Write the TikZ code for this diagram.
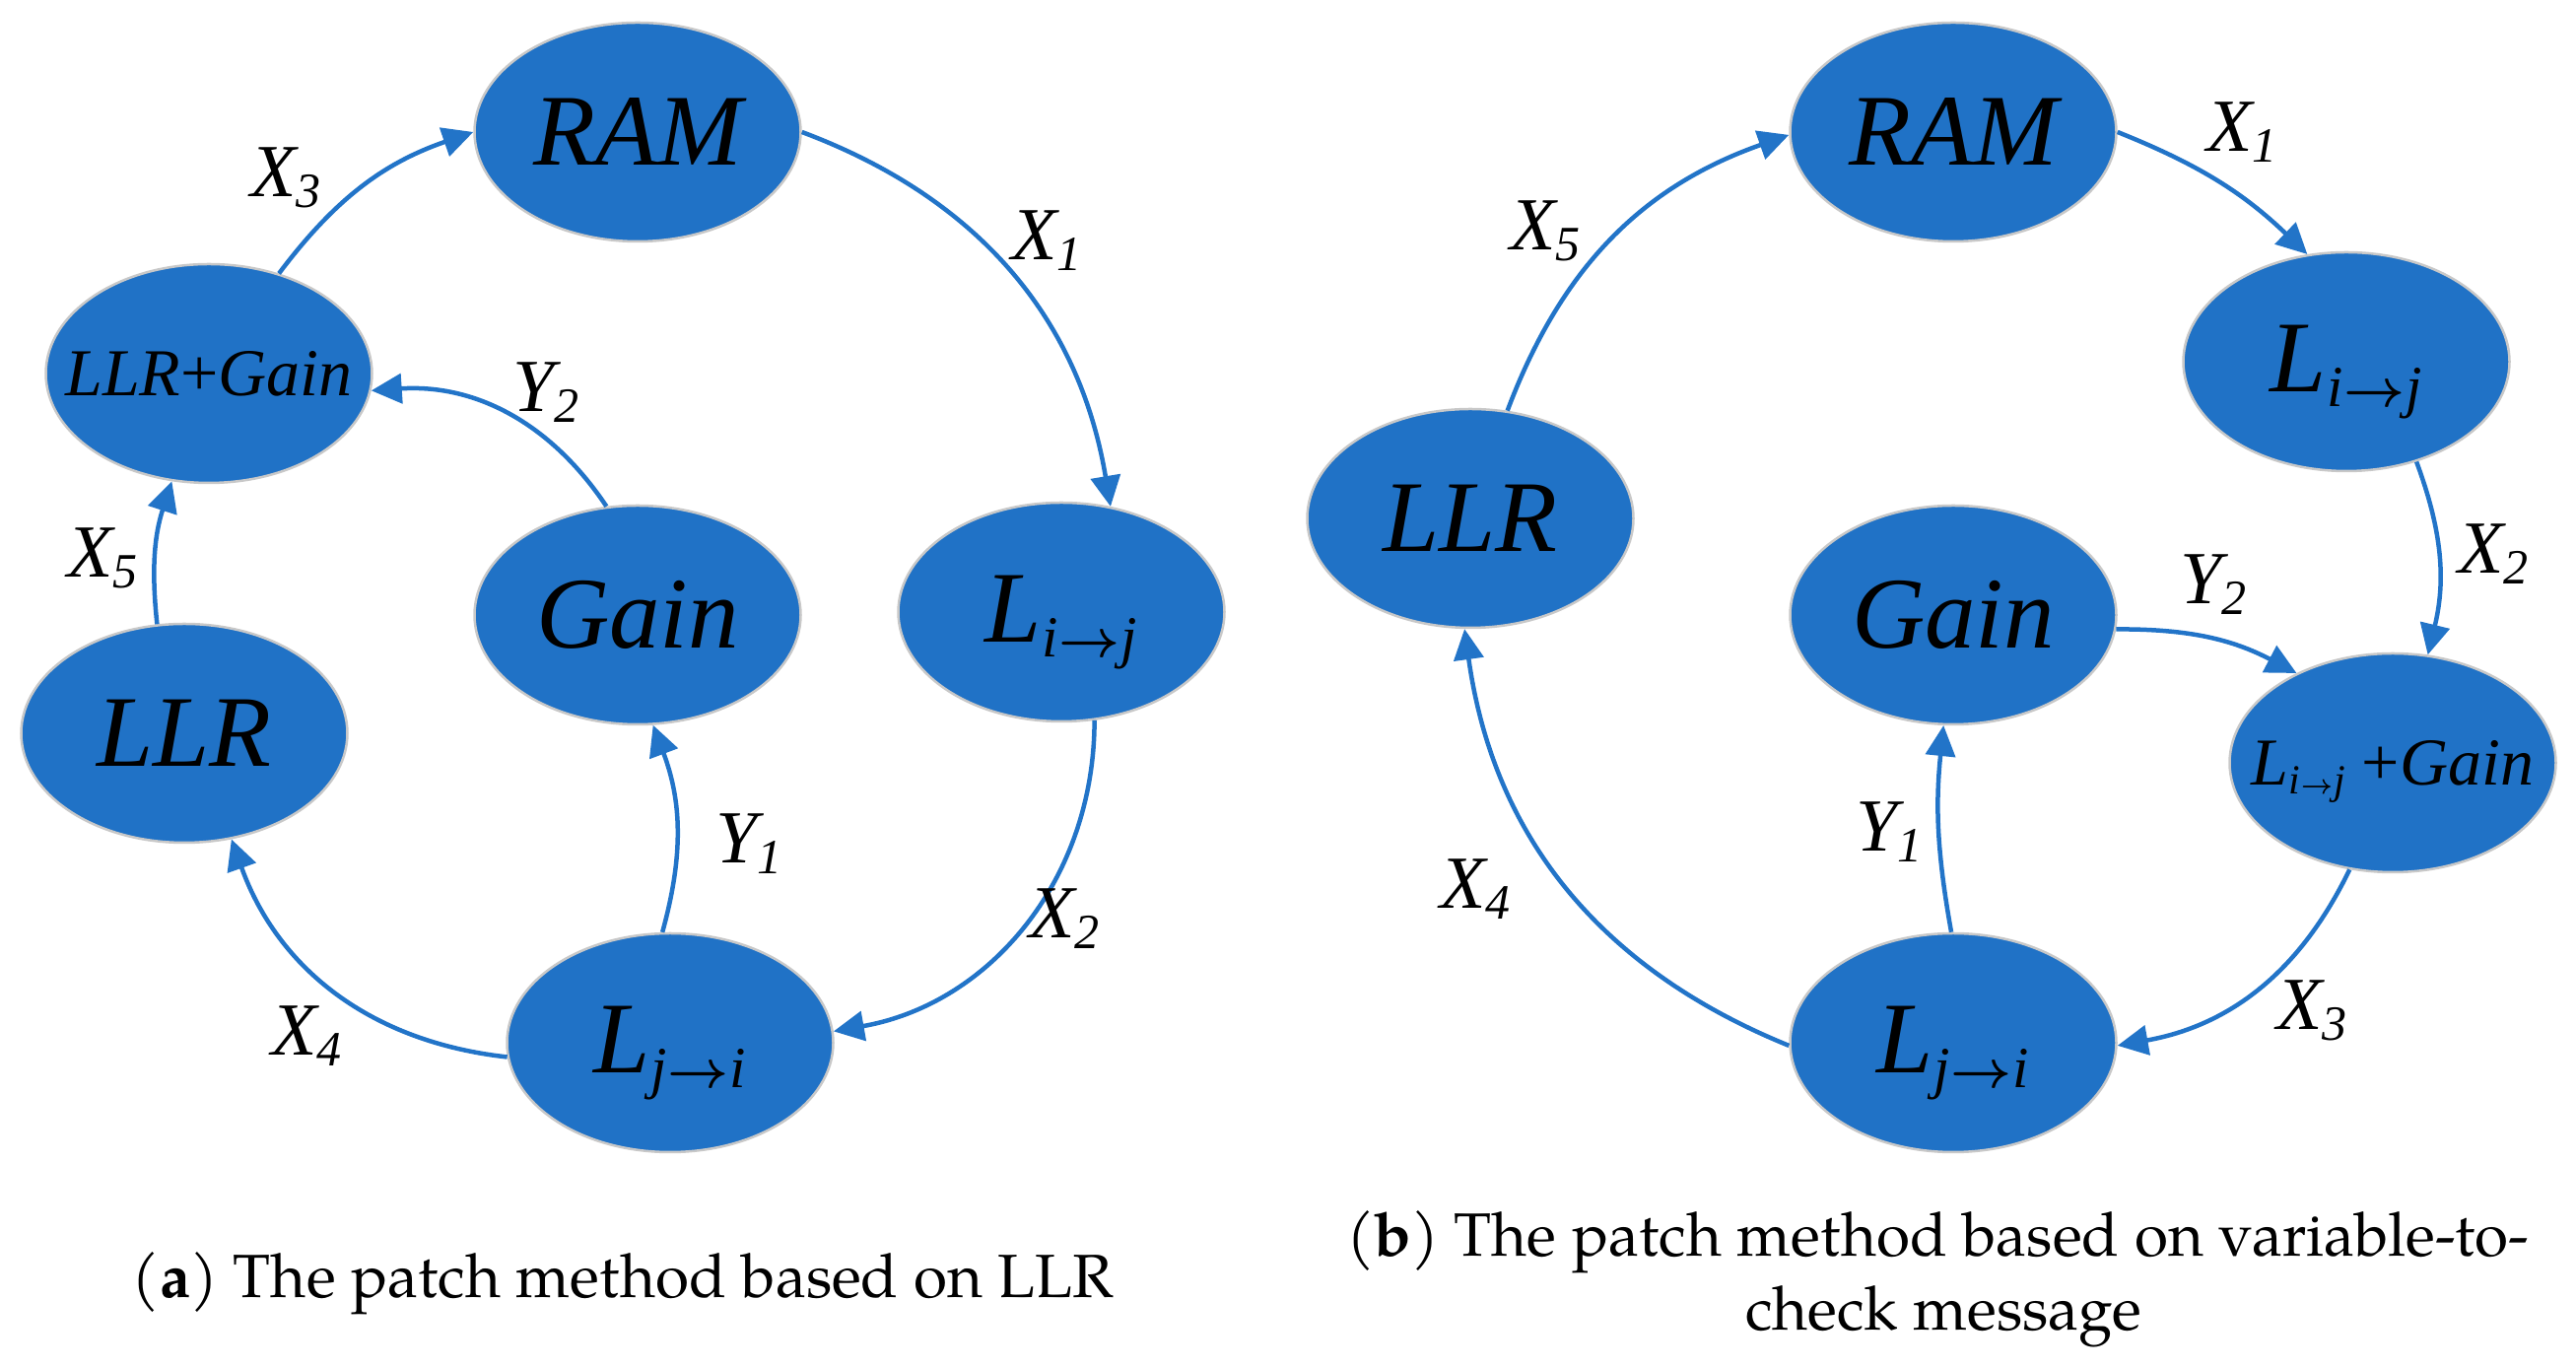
\documentclass[tikz,border=0pt]{standalone}
\usepackage{amsmath}
\usepackage{fontspec}
\setmainfont{Liberation Serif}
\newfontfamily\capfont{TeX Gyre Pagella}
\usetikzlibrary{shapes.geometric,arrows.meta}
\definecolor{nodeblue}{RGB}{32,114,198}
\definecolor{edgeblue}{RGB}{34,116,200}
\definecolor{rimgrey}{RGB}{200,200,200}
\newcommand{\subarrow}[1]{\kern1pt\resizebox{#1}{!}{$\boldsymbol{\rightarrow}$}\kern1pt}
\newcommand{\bigL}[2]{L\raisebox{-15pt}[\height][6pt]{\fontsize{59}{59}\selectfont #1\subarrow{62pt}#2}}
\newcommand{\smallL}[2]{L\raisebox{-9pt}[\height][0pt]{\fontsize{42}{42}\selectfont #1\subarrow{32pt}#2}}
\newcommand{\lab}[2]{#1\raisebox{-11pt}{\fontsize{50}{50}\selectfont #2}}
\begin{document}
\begin{tikzpicture}[x=1pt,y=1pt,
  blob/.style={ellipse, fill=nodeblue, draw=rimgrey, line width=2.5pt,
    minimum width=331pt, minimum height=222pt, inner sep=0pt,
    font=\fontsize{103}{110}\selectfont\itshape},
  blobsmall/.style={blob, font=\fontsize{68}{75}\selectfont\itshape},
  lbl/.style={inner sep=0pt, font=\fontsize{76}{80}\selectfont\itshape},
  captxt/.style={inner sep=0pt, anchor=base, font=\fontsize{62}{75}\selectfont\capfont},
  link/.style={draw=edgeblue, line width=4.5pt, -{Triangle[length=31pt,width=30pt]}}]
\useasboundingbox (0,0) rectangle (2614,1388);
% ---------- panel (a)
\node[blob] (rama) at (647,1254) {\makebox[0pt]{RAM}};
\node[blobsmall] (lga) at (212,1009) {\makebox[0pt]{LLR{\upshape +}Gain}};
\node[blob] (gaina) at (647,764) {\makebox[0pt]{Gain}};
\node[blob] (lija) at (1077,767) {\makebox[0pt]{\bigL{i}{j}}};
\node[blob] (llra) at (187,644) {\makebox[0pt]{LLR}};
\node[blob] (ljia) at (680,330) {\makebox[0pt]{\bigL{j}{i}}};
\draw[link] (lga.55.6) to[bend left=17] (rama.180);
\draw[link] (rama.0) to[bend left=30] (lija.65);
\draw[link] (gaina.106) to[bend right=30] (lga.-6.3);
\draw[link] (llra.104.6) to[bend left=12] (lga.251.7);
\draw[link] (ljia.94) to[bend right=18] (gaina.278.5);
\draw[link] (lija.-73) to[bend left=40] (ljia.4);
\draw[link] (ljia.185) to[bend left=32] (llra.294);
\node[lbl] (x3a) at (290,1208) {\lab{X}{3}};
\node[lbl] (x1a) at (1062,1144) {\lab{X}{1}};
\node[lbl] (y2a) at (554,990) {\lab{Y}{2}};
\node[lbl] (x5a) at (104,822) {\lab{X}{5}};
\node[lbl] (y1a) at (760,532) {\lab{Y}{1}};
\node[lbl] (x2a) at (1080,456) {\lab{X}{2}};
\node[lbl] (x4a) at (311,337) {\lab{X}{4}};
\node[captxt] (capa) at (632,71) {(\textbf{a}) The patch method based on LLR};
% ---------- panel (b)
\node[blob] (ramb) at (1982,1254) {\makebox[0pt]{RAM}};
\node[blob] (lijb) at (2381,1021) {\makebox[0pt]{\bigL{i}{j}}};
\node[blob] (llrb) at (1492,862) {\makebox[0pt]{LLR}};
\node[blob] (gainb) at (1982,764) {\makebox[0pt]{Gain}};
\node[blobsmall] (lgb) at (2428,614) {\makebox[0pt]{\smallL{i}{j} {\upshape +}Gain}};
\node[blob] (ljib) at (1982,330) {\makebox[0pt]{\bigL{j}{i}}};
\draw[link] (ramb.0) to[bend left=11] (lijb.110);
\draw[link] (lijb.-55) to[bend left=17] (lgb.72);
\draw[link] (gainb.-5.5) to[bend left=14] (lgb.137);
\draw[link] (lgb.248) to[bend left=27] (ljib.-1.5);
\draw[link] (ljib.91.5) to[bend left=8] (gainb.265.7);
\draw[link] (ljib.181) to[bend left=30] (llrb.267);
\draw[link] (llrb.71) to[bend left=25] (ramb.181);
\node[lbl] (x1b) at (2275,1254) {\lab{X}{1}};
\node[lbl] (x5b) at (1568,1154) {\lab{X}{5}};
\node[lbl] (x2b) at (2530,826) {\lab{X}{2}};
\node[lbl] (y2b) at (2246,795) {\lab{Y}{2}};
\node[lbl] (y1b) at (1917,544) {\lab{Y}{1}};
\node[lbl] (x4b) at (1497,486) {\lab{X}{4}};
\node[lbl] (x3b) at (2346,363) {\lab{X}{3}};
\node[captxt] (capb1) at (1966,113) {(\textbf{b}) The patch method based on variable-to-};
\node[captxt] (capb2) at (1972,38) {check message};
\end{tikzpicture}
\end{document}
